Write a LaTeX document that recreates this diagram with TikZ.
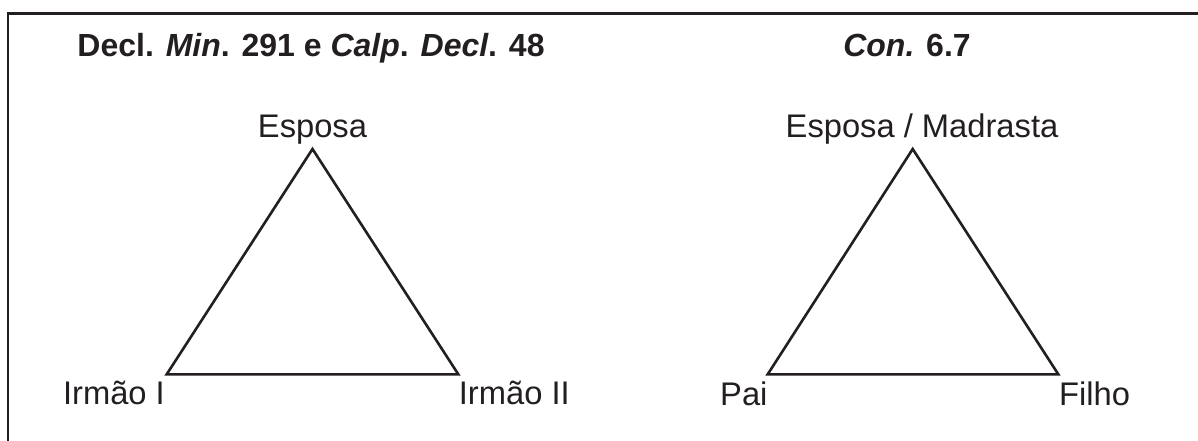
\documentclass[tikz,border=0pt]{standalone}
\usepackage{fontspec}
\setmainfont{Liberation Sans}
\definecolor{ink}{HTML}{231F20}
\begin{document}
\begin{tikzpicture}[x=1pt,y=-1pt,
  lbl/.style={inner sep=0pt,font=\fontsize{32.7}{36}\selectfont,text=ink},
  ttl/.style={inner sep=0pt,font=\fontsize{32}{36}\selectfont\bfseries,text=ink},
  edge/.style={draw=ink,line width=2.6pt,line join=miter},
  frame/.style={draw=ink,line width=2.6pt}]
\useasboundingbox (0,0) rectangle (1198,441);
\clip (0,0) rectangle (1198,441);
% frame (open at right and bottom)
\coordinate (fbl) at (7.8,460);
\coordinate (ftl) at (7.8,13.3);
\coordinate (ftr) at (1220,13.3);
\draw[frame] (fbl) -- (ftl) -- (ftr);
% titles
\node[ttl,anchor=base] (t1) at (311,57) {Decl. \textit{Min}. 291 e \textit{Calp}. \textit{Decl}. 48};
\node[ttl,anchor=base] (t2) at (907,57) {\textit{Con.} 6.7};
% left triangle
\coordinate (a1) at (312.5,149);
\coordinate (b1) at (166.7,374.3);
\coordinate (c1) at (458.3,374.3);
\draw[edge] (a1) -- (b1) -- (c1) -- cycle;
\node[lbl,anchor=base] (esp1) at (312.5,137) {Esposa};
\node[lbl,anchor=base east] (ir1) at (165,404) {Irmão I};
\node[lbl,anchor=base west] (ir2) at (458.7,404) {Irmão II};
% right triangle
\coordinate (a2) at (912.7,149);
\coordinate (b2) at (767.7,374.3);
\coordinate (c2) at (1058.3,374.3);
\draw[edge] (a2) -- (b2) -- (c2) -- cycle;
\node[lbl,anchor=base] (esp2) at (922,137) {Esposa / Madrasta};
\node[lbl,anchor=base west] (pai) at (720,405) {Pai};
\node[lbl,anchor=base west] (fil) at (1059,405) {Filho};
\end{tikzpicture}
\end{document}
